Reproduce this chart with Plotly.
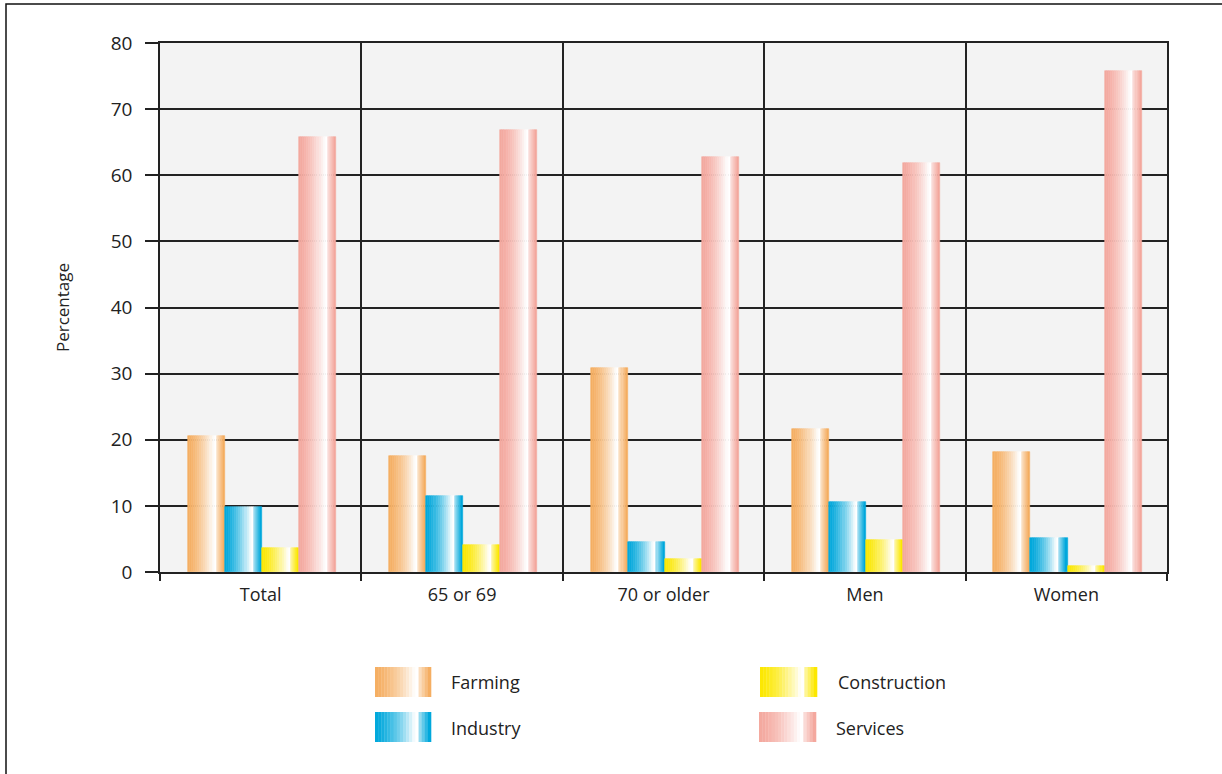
import plotly.graph_objects as go

categories = ["Total", "65 or 69", "70 or older", "Men", "Women"]
farming = [20.6, 17.5, 30.9, 21.6, 18.2]
industry = [9.8, 11.5, 4.5, 10.6, 5.1]
construction = [3.6, 4.1, 2.0, 4.8, 0.9]
services = [65.8, 66.9, 62.7, 61.8, 75.8]

series_names = ["Farming", "Industry", "Construction", "Services"]
series_values = [farming, industry, construction, services]
base_colors = [(245, 174, 98), (0, 168, 220), (252, 232, 0), (244, 168, 158)]

W, H = 1222, 774
PLOT_L, PLOT_R, PLOT_T, PLOT_B = 160, 1167, 43, 572
ML, MT = PLOT_L, PLOT_T
MR = W - PLOT_R
MB = H - PLOT_B
PW, PH = PLOT_R - PLOT_L, PLOT_B - PLOT_T

N = 18
BAR_W = 0.184
GROUP_START = -2 * BAR_W + 0.006


def whiteness(t):
    if t < 0.72:
        return min(1.0, (t / 0.72) ** 1.5)
    if t < 0.80:
        return 1.0
    return max(0.0, 0.6 - (t - 0.80) / 0.17 * 0.6)


def mix(c, w):
    r, g, b = (int(round(ch + (255 - ch) * w)) for ch in c)
    return f"rgb({r},{g},{b})"


stripe_colors = []
for c in base_colors:
    stripe_colors.append([mix(c, whiteness((i + 0.5) / N)) for i in range(N)])

fig = go.Figure()
for s, (name, vals) in enumerate(zip(series_names, series_values)):
    for i in range(N):
        col = stripe_colors[s][i]
        fig.add_trace(go.Bar(
            x=categories, y=vals, name=name,
            offset=GROUP_START + s * BAR_W + i * BAR_W / N,
            width=BAR_W / N,
            marker=dict(color=col, line=dict(color=col, width=0.6)),
            showlegend=False, hoverinfo="skip" if i else None,
        ))


def px_x(px):
    return (px - PLOT_L) / PW


def px_y(py):
    return (PLOT_B - py) / PH


shapes = []
shapes.append(dict(type="rect", xref="paper", yref="paper",
                   x0=px_x(6), x1=px_x(1260), y0=px_y(800), y1=px_y(4),
                   line=dict(color="#111", width=1.5), layer="below"))

legend_items = [
    ("Farming", 375, 431, 667, 697, 449, 682),
    ("Industry", 375, 431, 712, 742, 449, 728),
    ("Construction", 760, 817, 667, 697, 836, 682),
    ("Services", 759, 816, 712, 742, 834, 728),
]
annotations = []
for s, (label, x0, x1, y0, y1, tx, ty) in enumerate(legend_items):
    sw = (x1 - x0) / N
    for i in range(N):
        col = stripe_colors[s][i]
        shapes.append(dict(type="rect", xref="paper", yref="paper",
                           x0=px_x(x0 + i * sw), x1=px_x(x0 + (i + 1) * sw + 0.3),
                           y0=px_y(y1), y1=px_y(y0),
                           fillcolor=col, line=dict(width=0)))
    annotations.append(dict(text=label, xref="paper", yref="paper",
                            x=px_x(tx), y=px_y(ty), xanchor="left", yanchor="middle",
                            showarrow=False, font=dict(size=18, color="#222")))

fig.update_layout(
    width=W, height=H,
    margin=dict(l=ML, r=MR, t=MT, b=MB),
    barmode="overlay",
    bargap=0, plot_bgcolor="#F3F3F3", paper_bgcolor="white",
    font=dict(family="Open Sans, Liberation Sans, sans-serif", size=18, color="#222"),
    shapes=shapes, annotations=annotations,
    showlegend=False,
)
fig.update_xaxes(
    type="category", tickson="boundaries", ticks="outside", ticklen=7,
    tickcolor="#222", tickwidth=1.5,
    showgrid=True, gridcolor="#222", gridwidth=1.8,
    showline=True, linecolor="#222", linewidth=1.5, mirror=True,
    tickfont=dict(size=18, color="#222"),
    ticklabelstandoff=6,
)
fig.update_yaxes(
    range=[0, 80], dtick=10, ticks="outside", ticklen=13,
    tickcolor="#222", tickwidth=1.5,
    showgrid=True, gridcolor="#222", gridwidth=1.8,
    showline=True, linecolor="#222", linewidth=1.5, mirror=True,
    zeroline=False,
    tickfont=dict(size=19, color="#222"),
    ticklabelstandoff=9,
    title=dict(text="Percentage", font=dict(size=17, color="#222"), standoff=37),
)

fig.write_html("out.html", config={"displayModeBar": False},
               post_script="document.body.style.margin='0px';document.body.style.overflow='hidden';")
